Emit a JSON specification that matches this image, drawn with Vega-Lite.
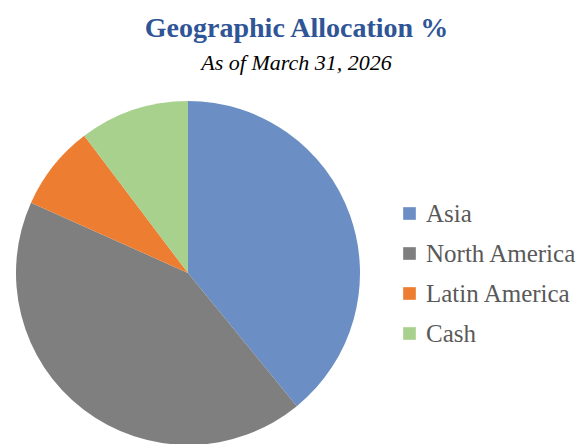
{
  "$schema": "https://vega.github.io/schema/vega-lite/v6.json",
  "width": 344,
  "height": 344,
  "padding": {"left": 16, "top": 15, "right": 0, "bottom": 0},
  "background": "white",
  "title": {
    "text": "Geographic Allocation %",
    "subtitle": "As of March 31, 2026",
    "anchor": "middle",
    "frame": "bounds",
    "font": "Liberation Serif",
    "fontSize": 28,
    "fontWeight": "bold",
    "color": "#2F5597",
    "subtitleFont": "Liberation Serif",
    "subtitleFontSize": 22,
    "subtitleFontStyle": "italic",
    "subtitleColor": "#000000",
    "subtitlePadding": 10,
    "offset": 27
  },
  "data": {
    "values": [
      {"region": "Asia", "pct": 39.1},
      {"region": "North America", "pct": 42.6},
      {"region": "Latin America", "pct": 8.0},
      {"region": "Cash", "pct": 10.3}
    ]
  },
  "transform": [
    {"calculate": "indexof(['Asia','North America','Latin America','Cash'], datum.region)", "as": "seq"}
  ],
  "mark": {"type": "arc"},
  "encoding": {
    "theta": {"field": "pct", "type": "quantitative", "stack": true},
    "order": {"field": "seq", "type": "quantitative", "sort": "ascending"},
    "color": {
      "field": "region",
      "type": "nominal",
      "sort": ["Asia", "North America", "Latin America", "Cash"],
      "scale": {
        "domain": ["Asia", "North America", "Latin America", "Cash"],
        "range": ["#6B8FC4", "#7F7F7F", "#ED7D31", "#A9D18E"]
      },
      "legend": {
        "title": null,
        "orient": "none",
        "legendX": 381,
        "legendY": 100,
        "symbolType": "square",
        "symbolSize": 160,
        "symbolStrokeWidth": 0,
        "labelFont": "Liberation Serif",
        "labelFontSize": 25,
        "labelColor": "#595959",
        "rowPadding": 14,
        "labelOffset": 4,
        "labelLimit": 300
      }
    }
  },
  "config": {"view": {"stroke": null}}
}
